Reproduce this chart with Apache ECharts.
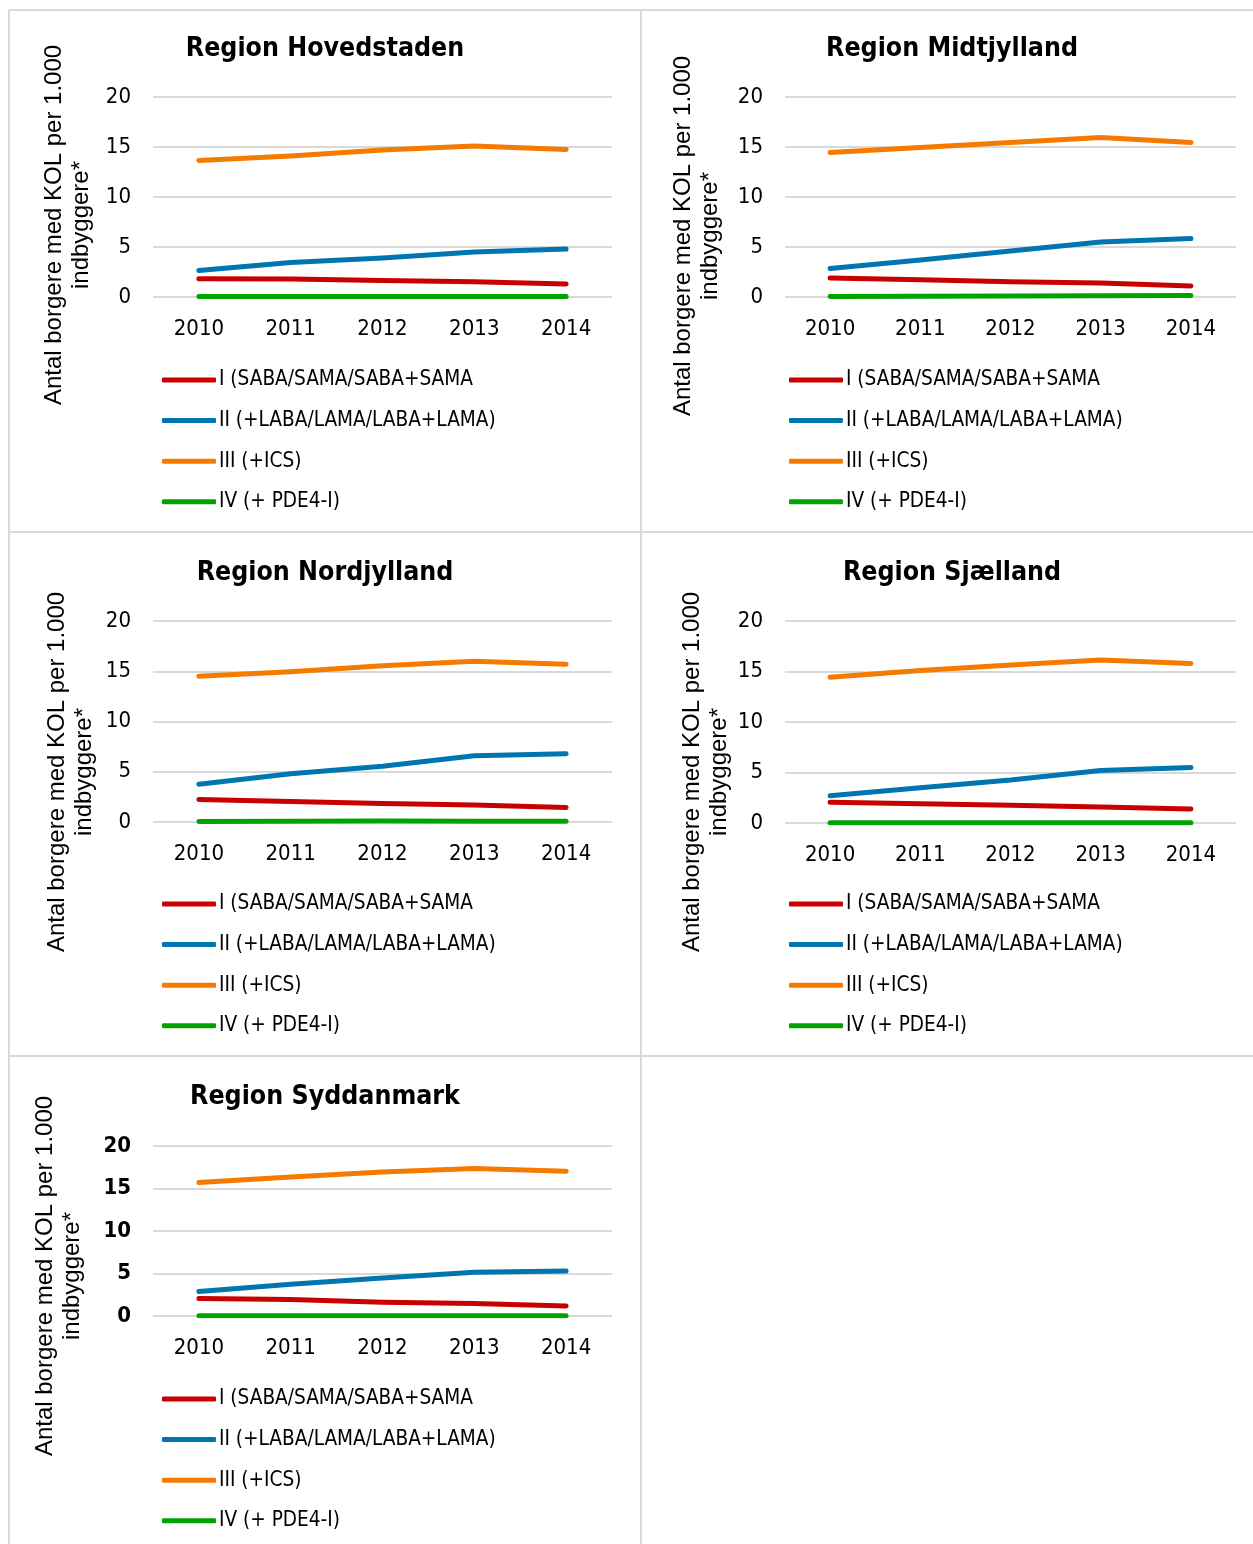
<!DOCTYPE html>
<html>
<head>
<meta charset="utf-8">
<title>KOL – behandlingstrin per region</title>
<script src="https://cdn.jsdelivr.net/npm/echarts@6/dist/echarts.min.js"></script>
<style>
  html, body { margin: 0; padding: 0; background: #ffffff; }
  #chart { width: 1253px; height: 1544px; }
</style>
</head>
<body>
<div id="chart"></div>
<script>
// Years on the category axis
const years = ['2010', '2011', '2012', '2013', '2014'];
const yTicks = [0, 5, 10, 15, 20];

// Treatment steps (series names)
const stepNames = [
  'I (SABA/SAMA/SABA+SAMA',
  'II (+LABA/LAMA/LABA+LAMA)',
  'III (+ICS)',
  'IV (+ PDE4-I)'
];

// Region names
const regionNames = [
  'Region Hovedstaden',
  'Region Midtjylland',
  'Region Nordjylland',
  'Region Sjælland',
  'Region Syddanmark'
];

// Citizens with COPD per 1,000 inhabitants, by step
const hovedstadenI   = [1.82, 1.80, 1.65, 1.52, 1.30];
const hovedstadenII  = [2.65, 3.45, 3.90, 4.50, 4.80];
const hovedstadenIII = [13.66, 14.10, 14.70, 15.10, 14.75];
const hovedstadenIV  = [0.05, 0.05, 0.05, 0.06, 0.06];

const midtjyllandI   = [1.90, 1.72, 1.52, 1.40, 1.10];
const midtjyllandII  = [2.85, 3.70, 4.60, 5.50, 5.85];
const midtjyllandIII = [14.45, 14.95, 15.45, 15.95, 15.45];
const midtjyllandIV  = [0.05, 0.08, 0.10, 0.12, 0.15];

const nordjyllandI   = [2.25, 2.05, 1.85, 1.68, 1.45];
const nordjyllandII  = [3.75, 4.80, 5.55, 6.60, 6.80];
const nordjyllandIII = [14.50, 14.95, 15.55, 16.00, 15.70];
const nordjyllandIV  = [0.06, 0.08, 0.09, 0.08, 0.08];

const sjaellandI   = [2.05, 1.90, 1.75, 1.58, 1.38];
const sjaellandII  = [2.70, 3.50, 4.25, 5.20, 5.50];
const sjaellandIII = [14.43, 15.10, 15.65, 16.15, 15.80];
const sjaellandIV  = [0.03, 0.03, 0.03, 0.03, 0.03];

const syddanmarkI   = [2.05, 1.93, 1.61, 1.46, 1.18];
const syddanmarkII  = [2.87, 3.73, 4.47, 5.14, 5.30];
const syddanmarkIII = [15.70, 16.35, 16.94, 17.34, 17.02];
const syddanmarkIV  = [0.02, 0.02, 0.02, 0.02, 0.02];

const regionData = [
  [hovedstadenI, hovedstadenII, hovedstadenIII, hovedstadenIV],
  [midtjyllandI, midtjyllandII, midtjyllandIII, midtjyllandIV],
  [nordjyllandI, nordjyllandII, nordjyllandIII, nordjyllandIV],
  [sjaellandI, sjaellandII, sjaellandIII, sjaellandIV],
  [syddanmarkI, syddanmarkII, syddanmarkIII, syddanmarkIV]
];

const yAxisTitle = 'Antal borgere med KOL per 1.000\nindbyggere*';

// ---- presentation ----
const stepColors = ['#C80000', '#0076B0', '#F47B00', '#00A300'];
const FONT = '"DejaVu Sans Condensed", "DejaVu Sans", sans-serif';
const ARIAL = '"Liberation Sans", Arial, sans-serif';
const GRID_LINE = '#d9d9d9';

// panel layout: plot rectangle, title centre, legend origin, axis-title centre
const panels = [
  { grid: { left: 153, top: 97,   width: 459, height: 200 }, title: [325, 48],   legend: [162, 368],  yName: [68, 225],  bold: false },
  { grid: { left: 785, top: 97,   width: 451, height: 200 }, title: [952, 48],   legend: [789, 368],  yName: [697, 236], bold: false },
  { grid: { left: 153, top: 621,  width: 459, height: 201 }, title: [325, 572],  legend: [162, 892],  yName: [71, 772],  bold: false },
  { grid: { left: 785, top: 621,  width: 451, height: 202 }, title: [952, 572],  legend: [789, 892],  yName: [706, 772], bold: false },
  { grid: { left: 153, top: 1146, width: 459, height: 170 }, title: [325, 1096], legend: [162, 1387], yName: [59, 1276], bold: true }
];

const grids = [], xAxes = [], yAxes = [], series = [], titles = [], legends = [], graphics = [];

panels.forEach((p, i) => {
  grids.push(Object.assign({ containLabel: false }, p.grid));

  xAxes.push({
    type: 'category',
    gridIndex: i,
    data: years,
    boundaryGap: true,
    axisLine: { show: false },
    axisTick: { show: false },
    axisLabel: { margin: 21, color: '#000', fontFamily: FONT, fontSize: 22 }
  });

  yAxes.push({
    type: 'value',
    gridIndex: i,
    min: yTicks[0],
    max: yTicks[yTicks.length - 1],
    interval: yTicks[1] - yTicks[0],
    axisLine: { show: false },
    axisTick: { show: false },
    axisLabel: {
      margin: 22, color: '#000', fontFamily: FONT, fontSize: 22,
      fontWeight: p.bold ? 'bold' : 'normal',
      padding: [7, 0, 0, 0]
    },
    splitLine: { lineStyle: { color: GRID_LINE, width: 2 } }
  });

  regionData[i].forEach((values, s) => {
    series.push({
      name: stepNames[s],
      type: 'line',
      xAxisIndex: i,
      yAxisIndex: i,
      data: values,
      symbol: 'none',
      smooth: false,
      color: stepColors[s],
      lineStyle: { width: 5, color: stepColors[s], cap: 'round', join: 'round' },
      z: 10 - s
    });
  });

  titles.push({
    text: regionNames[i],
    left: p.title[0],
    top: p.title[1] - 14,
    textAlign: 'center',
    padding: 0,
    textStyle: { fontFamily: FONT, fontSize: 26.5, fontWeight: 'bold', color: '#000', lineHeight: 30 }
  });

  legends.push({
    orient: 'vertical',
    left: p.legend[0],
    top: p.legend[1],
    padding: 0,
    itemWidth: 54,
    itemHeight: 5,
    itemGap: 16.6,
    icon: 'roundRect',
    data: stepNames,
    selectedMode: false,
    textStyle: { fontFamily: FONT, fontSize: 20.6, color: '#000', lineHeight: 24, padding: [0, 0, 0, -2] }
  });

  graphics.push({
    type: 'text',
    x: p.yName[0],
    y: p.yName[1],
    rotation: Math.PI / 2,
    style: {
      text: yAxisTitle,
      fill: '#000',
      font: '24px ' + ARIAL,
      align: 'center',
      verticalAlign: 'middle',
      lineHeight: 27
    }
  });
});

// panel frame lines
const frame = [
  [9, 10, 1253, 10],
  [9, 10, 9, 1544],
  [641, 10, 641, 1544],
  [9, 532, 1253, 532],
  [9, 1056, 1253, 1056]
];
frame.forEach(f => {
  graphics.push({
    type: 'line',
    shape: { x1: f[0], y1: f[1], x2: f[2], y2: f[3] },
    style: { stroke: GRID_LINE, lineWidth: 2 },
    silent: true
  });
});

const chart = echarts.init(document.getElementById('chart'), null, { renderer: 'canvas' });
chart.setOption({
  backgroundColor: '#ffffff',
  animation: false,
  title: titles,
  legend: legends,
  grid: grids,
  xAxis: xAxes,
  yAxis: yAxes,
  series: series,
  graphic: graphics
});
</script>
</body>
</html>
